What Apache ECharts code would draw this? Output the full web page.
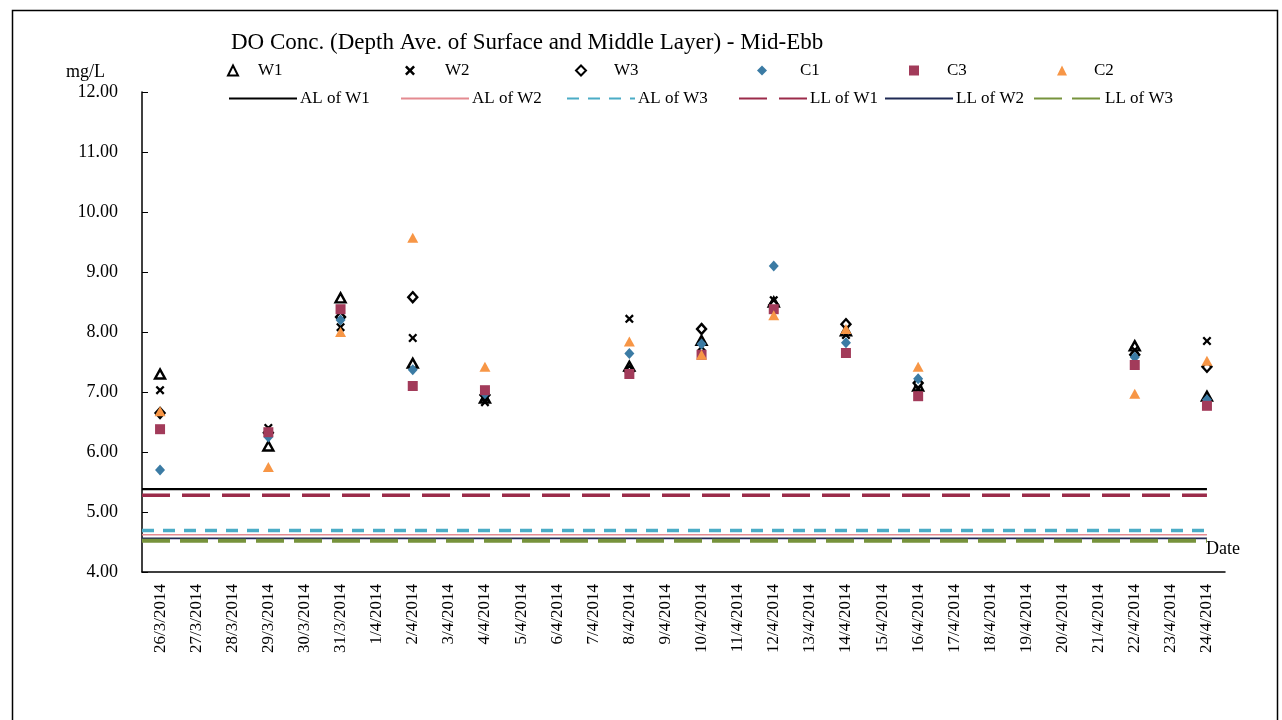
<!DOCTYPE html>
<html>
<head>
<meta charset="utf-8">
<script src="https://cdn.jsdelivr.net/npm/echarts@6/dist/echarts.min.js"></script>
<style>
  html, body { margin: 0; padding: 0; background: #fff; }
  #chart { width: 1282px; height: 720px; }
</style>
</head>
<body>
<div id="chart"></div>
<script>
// Sampling dates (category axis tick labels)
const dates = [
  '26/3/2014', '27/3/2014', '28/3/2014', '29/3/2014', '30/3/2014', '31/3/2014',
  '1/4/2014', '2/4/2014', '3/4/2014', '4/4/2014', '5/4/2014', '6/4/2014',
  '7/4/2014', '8/4/2014', '9/4/2014', '10/4/2014', '11/4/2014', '12/4/2014',
  '13/4/2014', '14/4/2014', '15/4/2014', '16/4/2014', '17/4/2014', '18/4/2014',
  '19/4/2014', '20/4/2014', '21/4/2014', '22/4/2014', '23/4/2014', '24/4/2014'
];

// Depth-averaged DO (mg/L) per station; null = no survey on that date
const W1 = [7.30, null, null, 6.10, null, 8.57, null, 7.48, null, 6.90, null, null, null, 7.43, null, 7.86, null, 8.50, null, 8.02, null, 7.10, null, null, null, null, null, 7.77, null, 6.93];
const W2 = [7.03, null, null, 6.40, null, 8.08, null, 7.90, null, 6.83, null, null, null, 8.22, null, 7.75, null, 8.53, null, 7.95, null, 7.05, null, null, null, null, null, 7.70, null, 7.85];
const W3 = [6.65, null, null, 6.32, null, 8.25, null, 8.58, null, 6.95, null, null, null, 7.35, null, 8.05, null, 8.45, null, 8.13, null, 7.15, null, null, null, null, null, 7.62, null, 7.42];
const C1 = [5.70, null, null, 6.25, null, 8.20, null, 7.37, null, 6.97, null, null, null, 7.64, null, 7.80, null, 9.10, null, 7.82, null, 7.22, null, null, null, null, null, 7.58, null, 6.87];
const C3 = [6.38, null, null, 6.33, null, 8.38, null, 7.10, null, 7.03, null, null, null, 7.30, null, 7.62, null, 8.38, null, 7.65, null, 6.93, null, null, null, null, null, 7.45, null, 6.77];
const C2 = [6.68, null, null, 5.75, null, 8.00, null, 9.57, null, 7.42, null, null, null, 7.84, null, 7.62, null, 8.28, null, 8.05, null, 7.42, null, null, null, null, null, 6.97, null, 7.52];

// Action levels (AL) and limit levels (LL), mg/L
const limitNames = ['AL of W1', 'AL of W2', 'AL of W3', 'LL of W1', 'LL of W2', 'LL of W3'];
const limitValues = [5.38, 4.62, 4.69, 5.28, 4.56, 4.52];

// y-axis range and step
const yMin = 4, yMax = 12, yStep = 1;

const serif = 'Liberation Serif';

const stationNames = ['W1', 'W2', 'W3', 'C1', 'C3', 'C2'];
const stationData = [W1, W2, W3, C1, C3, C2];
const crossPath = 'path://M0,1.8L1.8,0L5,3.2L8.2,0L10,1.8L6.8,5L10,8.2L8.2,10L5,6.8L1.8,10L0,8.2L3.2,5Z';
const stationStyles = [
  { symbol: 'triangle', symbolSize: [10, 9], itemStyle: { color: '#fff', borderColor: '#000', borderWidth: 2.4, opacity: 1 } },
  { symbol: crossPath, symbolSize: 9, itemStyle: { color: '#000', opacity: 1 } },
  { symbol: 'diamond', symbolSize: [9, 10], itemStyle: { color: '#fff', borderColor: '#000', borderWidth: 2.4, opacity: 1 } },
  { symbol: 'diamond', symbolSize: [10, 11], itemStyle: { color: '#3B7BA4', opacity: 1 } },
  { symbol: 'rect', symbolSize: 10, itemStyle: { color: '#A23B5A', opacity: 1 } },
  { symbol: 'triangle', symbolSize: [11, 10], itemStyle: { color: '#F79646', opacity: 1 } }
];
const limitStyles = [
  { color: '#000000', width: 2.2, type: 'solid' },
  { color: '#E48A90', width: 1.5, type: 'solid' },
  { color: '#4BACC6', width: 3.5, type: [12, 9] },
  { color: '#9B2B4A', width: 3.5, type: [28, 12] },
  { color: '#1F2A55', width: 1.8, type: 'solid' },
  { color: '#77933C', width: 4, type: [28, 10] }
];

const series = [];
// Limit lines run from the y axis to the last sampling date
limitNames.forEach((name, i) => {
  series.push({
    name: name,
    type: 'line',
    xAxisIndex: 1,
    symbol: 'none',
    silent: true,
    z: 1,
    lineStyle: limitStyles[i],
    itemStyle: { color: limitStyles[i].color },
    data: [[-0.5, limitValues[i]], [dates.length - 1, limitValues[i]]]
  });
});
stationNames.forEach((name, i) => {
  series.push(Object.assign({
    name: name,
    type: 'scatter',
    xAxisIndex: 0,
    z: 3 + i,
    data: stationData[i].map(v => (v === null ? '-' : v))
  }, stationStyles[i]));
});

// Legend entries placed individually along two rows
const legendText = { fontFamily: serif, fontSize: 17, color: '#000' };
const row1 = [
  { name: 'W1', left: 227, gap: 20 },
  { name: 'W2', left: 405, gap: 30 },
  { name: 'W3', left: 575, gap: 28 },
  { name: 'C1', left: 757, gap: 33 },
  { name: 'C3', left: 909, gap: 28 },
  { name: 'C2', left: 1057, gap: 27 }
];
const row2 = [
  { name: 'AL of W1', left: 228 },
  { name: 'AL of W2', left: 400 },
  { name: 'AL of W3', left: 566 },
  { name: 'LL of W1', left: 738 },
  { name: 'LL of W2', left: 884 },
  { name: 'LL of W3', left: 1033 }
];
const legends = [];
row1.forEach(it => legends.push({
  data: [it.name], left: it.left, top: 62, itemWidth: 10, itemHeight: 10,
  selectedMode: false, padding: 0,
  textStyle: Object.assign({ padding: [0, 0, 0, it.gap - 5] }, legendText)
}));
row2.forEach(it => legends.push({
  data: [it.name], left: it.left, top: 90, itemWidth: 68, itemHeight: 12,
  selectedMode: false, padding: 0, itemGap: 0,
  itemStyle: { opacity: 0 },
  textStyle: Object.assign({ padding: [0, 0, 0, -2] }, legendText)
}));

const chart = echarts.init(document.getElementById('chart'), null, { renderer: 'canvas' });
chart.setOption({
  animation: false,
  backgroundColor: '#fff',
  title: {
    text: 'DO Conc. (Depth Ave. of Surface and Middle Layer) - Mid-Ebb',
    left: 226, top: 26,
    textStyle: { fontFamily: serif, fontSize: 23, fontWeight: 'normal', color: '#000' }
  },
  graphic: [{
    type: 'rect', left: 10, top: 8, silent: true,
    shape: { width: 1265, height: 730 },
    style: { fill: 'none', stroke: '#000', lineWidth: 1.5 }
  }],
  legend: legends,
  grid: { left: 142, right: 57, top: 92, bottom: 148 },
  xAxis: [{
    type: 'category',
    data: dates,
    boundaryGap: true,
    name: 'Date',
    nameLocation: 'end',
    nameGap: 15,
    nameTextStyle: { fontFamily: serif, fontSize: 18, color: '#000', align: 'right', verticalAlign: 'bottom', padding: [0, 0, 14, 0] },
    axisLine: { lineStyle: { color: '#000', width: 1.5 } },
    axisTick: { inside: true, length: 6, lineStyle: { color: '#000' } },
    axisLabel: { rotate: 90, interval: 0, margin: 12, fontFamily: serif, fontSize: 17, color: '#000' },
    splitLine: { show: false }
  }, {
    type: 'value',
    min: -0.5,
    max: dates.length - 0.5,
    show: false
  }],
  yAxis: {
    type: 'value',
    min: yMin, max: yMax, interval: yStep,
    name: 'mg/L',
    nameLocation: 'end',
    nameGap: 11,
    nameTextStyle: { fontFamily: serif, fontSize: 18, color: '#000', align: 'right', padding: [0, 37, 0, 0] },
    axisLine: { show: true, onZero: false, lineStyle: { color: '#000', width: 1.5 } },
    axisTick: { show: true, inside: true, length: 6, lineStyle: { color: '#000' } },
    axisLabel: { margin: 24, fontFamily: serif, fontSize: 18, color: '#000', formatter: v => v.toFixed(2) },
    splitLine: { show: false }
  },
  series: series
});
</script>
</body>
</html>
